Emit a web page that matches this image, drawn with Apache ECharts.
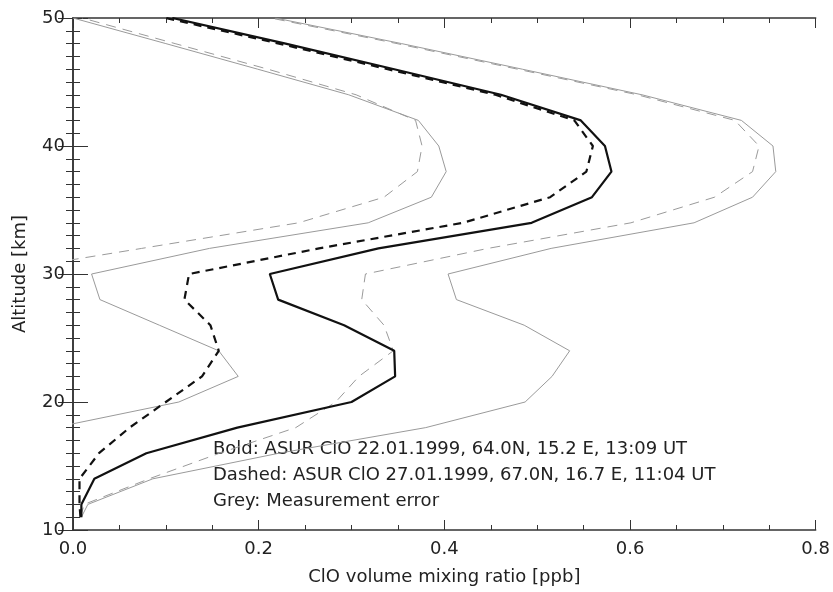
<!DOCTYPE html>
<html>
<head>
<meta charset="utf-8">
<script src="https://cdn.jsdelivr.net/npm/echarts@6/dist/echarts.min.js"></script>
<style>
html, body { margin: 0; background: #fff; }
#chartContainer { width: 833px; height: 592px; }
</style>
</head>
<body>
<div id="chartContainer"></div>
<script>
// altitude grid [km]
var altitude = [11, 12, 14, 16, 18, 20, 22, 24, 26, 28, 30, 32, 34, 36, 38, 40, 42, 44, 46, 48, 50];

// ClO vmr [ppb], 22.01.1999 (bold)
var boldClO = [0.009, 0.009, 0.023, 0.079, 0.177, 0.300, 0.347, 0.346, 0.292, 0.221, 0.212, 0.329, 0.494, 0.559, 0.580, 0.573, 0.547, 0.461, 0.346, 0.229, 0.107];
// ClO vmr [ppb], 27.01.1999 (dashed)
var dashedClO = [0.008, 0.007, 0.007, 0.028, 0.061, 0.100, 0.139, 0.157, 0.148, 0.120, 0.125, 0.265, 0.420, 0.514, 0.553, 0.560, 0.540, 0.455, 0.339, 0.222, 0.100];

// measurement error bounds (grey)
var boldLow = [null, null, null, null, -0.020, 0.114, 0.178, 0.157, 0.093, 0.029, 0.020, 0.147, 0.318, 0.386, 0.402, 0.394, 0.372, 0.297, 0.199, 0.100, 0.000];
var boldHigh = [0.009, 0.016, 0.086, 0.222, 0.380, 0.487, 0.516, 0.535, 0.486, 0.413, 0.404, 0.515, 0.669, 0.732, 0.757, 0.754, 0.720, 0.613, 0.484, 0.354, 0.218];
var dashedLow = [null, null, null, null, null, null, null, null, null, null, -0.095, 0.074, 0.243, 0.335, 0.371, 0.376, 0.369, 0.305, 0.210, 0.110, 0.010];
var dashedHigh = [0.008, 0.012, 0.082, 0.158, 0.240, 0.283, 0.308, 0.345, 0.335, 0.311, 0.315, 0.447, 0.601, 0.691, 0.732, 0.739, 0.713, 0.608, 0.479, 0.349, 0.213];

var xTicks = [0.0, 0.2, 0.4, 0.6, 0.8];
var yTicks = [10, 20, 30, 40, 50];

var legendLines = [
    'Bold: ASUR ClO 22.01.1999, 64.0N, 15.2 E, 13:09 UT',
    'Dashed: ASUR ClO 27.01.1999, 67.0N, 16.7 E, 11:04 UT',
    'Grey: Measurement error'
];

function profile(values) {
    var pts = [];
    for (var i = 0; i < altitude.length; i++) {
        if (values[i] !== null) pts.push([values[i], altitude[i]]);
    }
    return pts;
}

function line(values, color, width, dash) {
    return {
        type: 'line',
        data: profile(values),
        symbol: 'none',
        clip: true,
        silent: true,
        lineStyle: { color: color, width: width, type: dash }
    };
}

var font = 'DejaVu Sans';
var axisColor = '#333';

var chart = echarts.init(document.getElementById('chartContainer'));
var option = {
    animation: false,
    backgroundColor: '#fff',
    grid: { left: 73, right: 15, top: 18, bottom: 62 },
    xAxis: [
        {
            type: 'value', position: 'bottom',
            min: xTicks[0], max: xTicks[xTicks.length - 1], interval: 0.2,
            name: 'ClO volume mixing ratio [ppb]', nameLocation: 'middle', nameGap: 38,
            nameTextStyle: { fontFamily: font, fontSize: 18, color: '#222' },
            axisLine: { lineStyle: { color: axisColor, width: 1.5 } },
            axisTick: { inside: true, length: 10, lineStyle: { color: axisColor } },
            minorTick: { show: true, splitNumber: 4, length: 5, lineStyle: { color: axisColor } },
            axisLabel: { fontFamily: font, fontSize: 18, color: '#222', margin: 10,
                formatter: function (v) { return v.toFixed(1); } },
            splitLine: { show: false }
        },
        {
            type: 'value', position: 'top',
            min: xTicks[0], max: xTicks[xTicks.length - 1], interval: 0.2,
            axisLine: { lineStyle: { color: axisColor, width: 1.5 } },
            axisTick: { inside: true, length: 10, lineStyle: { color: axisColor } },
            minorTick: { show: true, splitNumber: 4, length: 5, lineStyle: { color: axisColor } },
            axisLabel: { show: false },
            splitLine: { show: false }
        }
    ],
    yAxis: [
        {
            type: 'value', position: 'left',
            min: yTicks[0], max: yTicks[yTicks.length - 1], interval: 10,
            name: 'Altitude [km]', nameLocation: 'middle', nameGap: 44, nameRotate: 90,
            nameTextStyle: { fontFamily: font, fontSize: 18, color: '#222' },
            axisLine: { show: true, lineStyle: { color: axisColor, width: 1.5 } },
            axisTick: { show: true, inside: true, length: 15, lineStyle: { color: axisColor } },
            minorTick: { show: true, splitNumber: 10, length: 7, lineStyle: { color: axisColor } },
            axisLabel: { fontFamily: font, fontSize: 18, color: '#222', margin: 8 },
            splitLine: { show: false }
        },
        {
            type: 'value', position: 'right',
            min: yTicks[0], max: yTicks[yTicks.length - 1], interval: 10,
            axisLine: { show: true, lineStyle: { color: axisColor, width: 1.5 } },
            axisTick: { show: true, inside: true, length: 15, lineStyle: { color: axisColor } },
            minorTick: { show: true, splitNumber: 10, length: 7, lineStyle: { color: axisColor } },
            axisLabel: { show: false },
            splitLine: { show: false }
        }
    ],
    series: [
        line(boldLow, '#9a9a9a', 1, 'solid'),
        line(boldHigh, '#9a9a9a', 1, 'solid'),
        line(dashedLow, '#9a9a9a', 1, [10, 7]),
        line(dashedHigh, '#9a9a9a', 1, [10, 7]),
        line(dashedClO, '#111', 2.2, [8, 6]),
        line(boldClO, '#111', 2.2, 'solid')
    ],
    graphic: legendLines.map(function (t, i) {
        return {
            type: 'text', left: 213, top: 440 + i * 26, silent: true,
            style: { text: t, fontFamily: font, fontSize: 18, fill: '#222' }
        };
    })
};
chart.setOption(option);
</script>
</body>
</html>
